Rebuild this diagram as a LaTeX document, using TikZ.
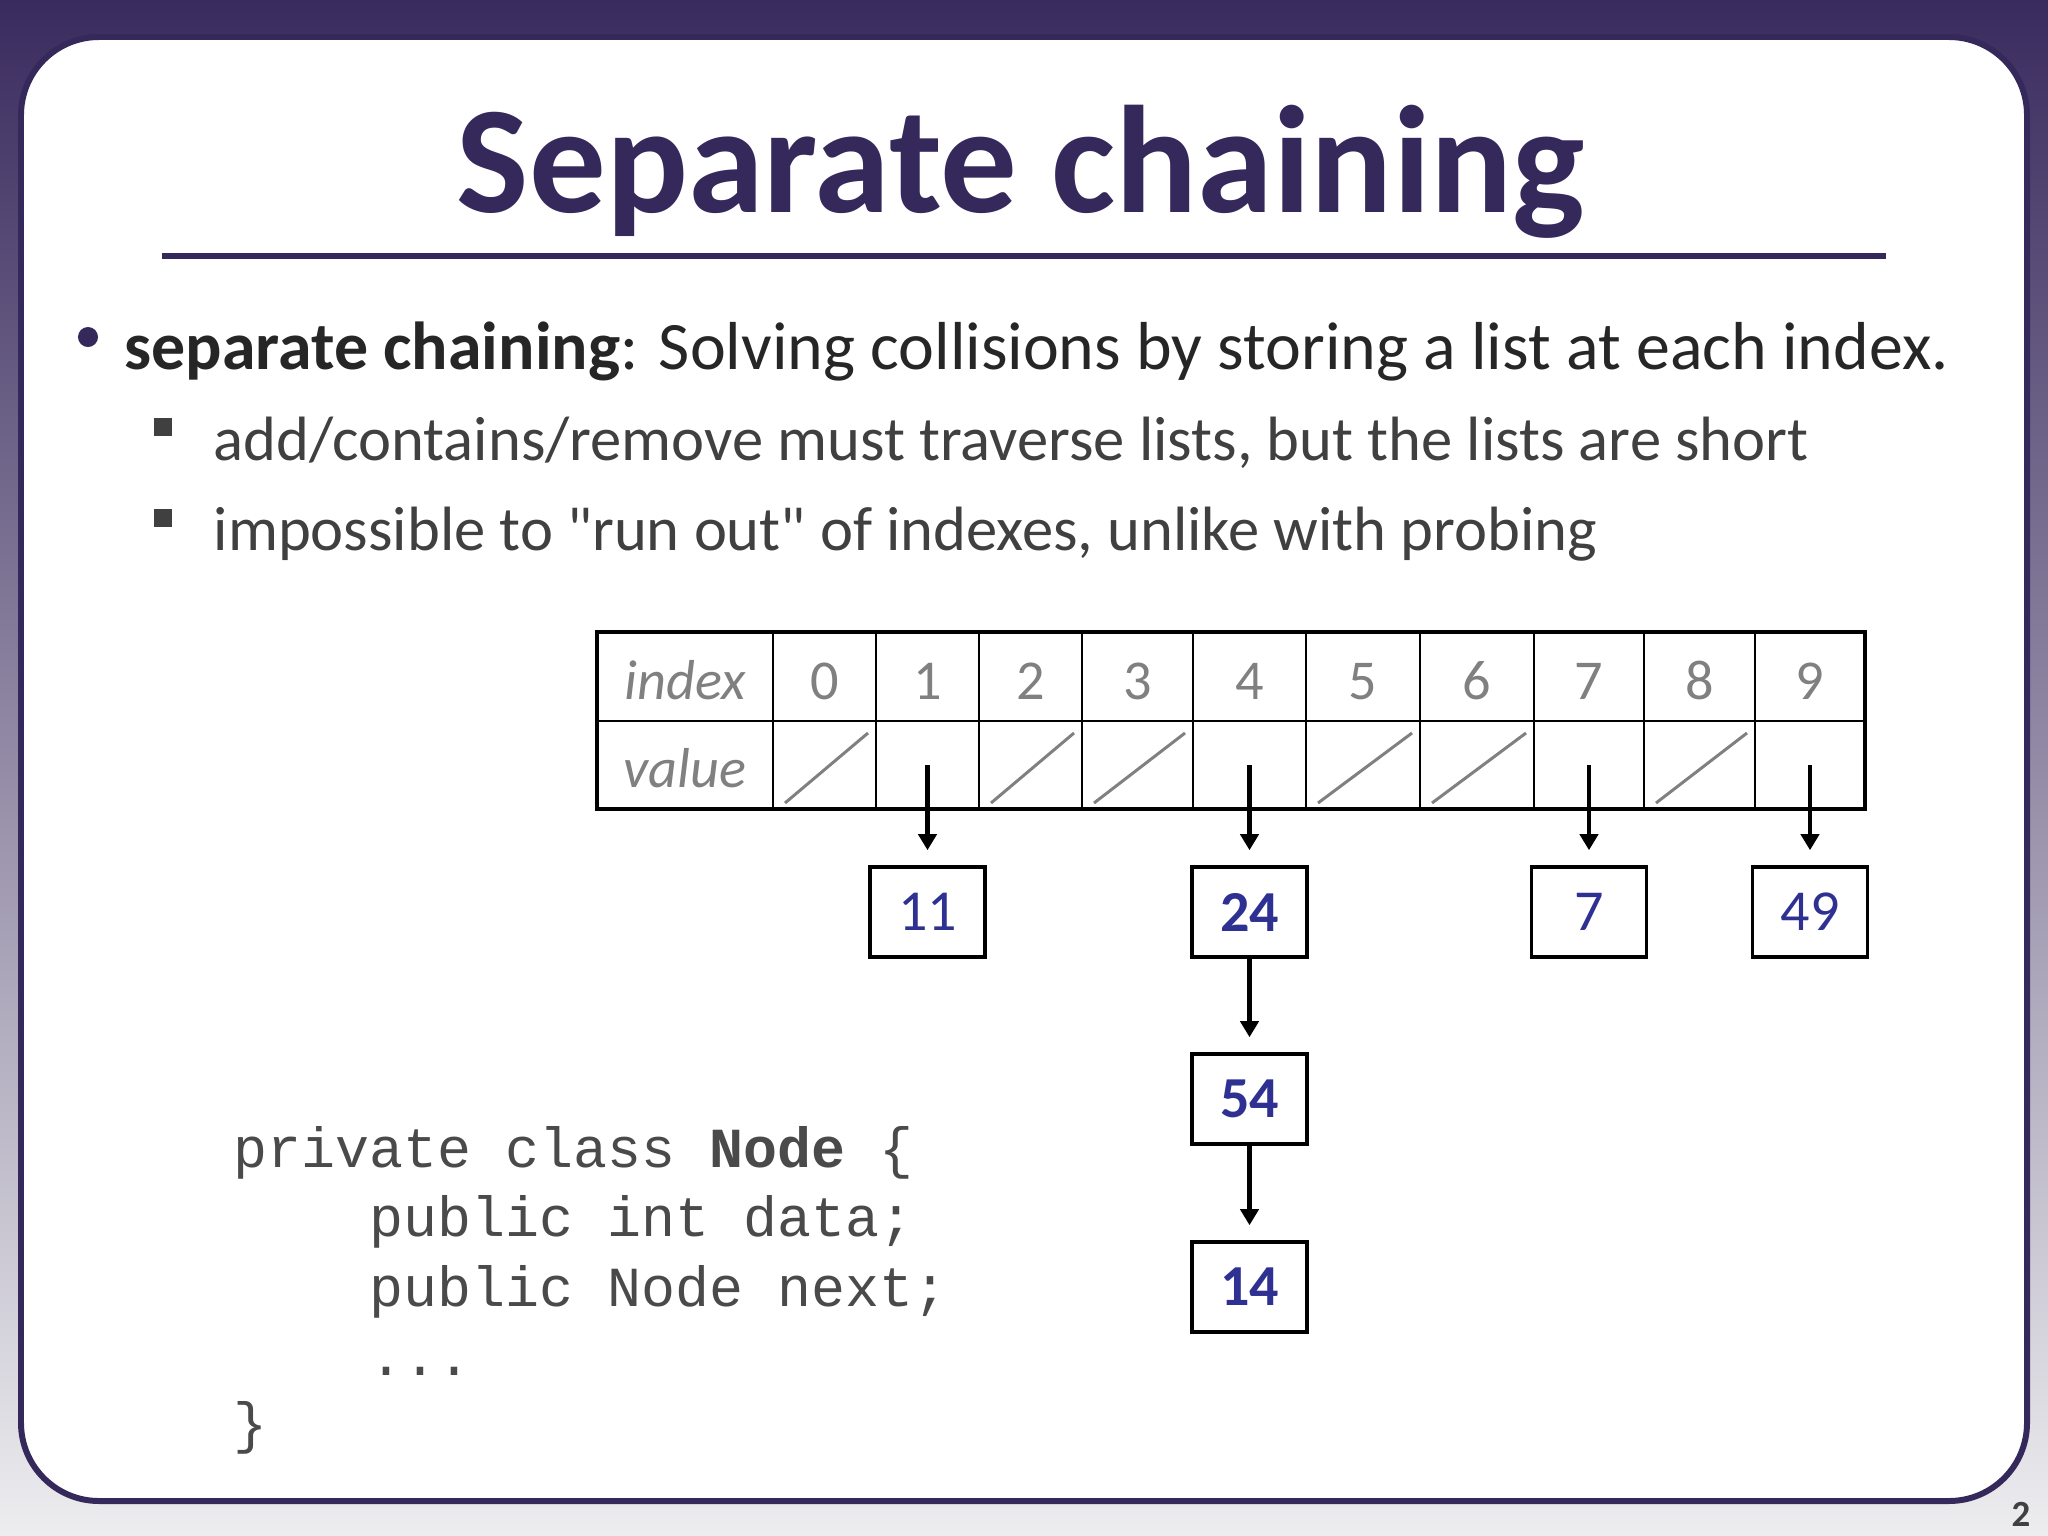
\documentclass[tikz,border=0pt]{standalone}
\usepackage{fontspec}
\setmainfont{Carlito}[Ligatures=TeXOff]
\setmonofont{Liberation Mono}
\usetikzlibrary{arrows.meta}

\definecolor{slidepurple}{HTML}{35295C}
\definecolor{bgtop}{HTML}{3A2B5E}
\definecolor{bgbottom}{HTML}{EDEDEF}
\definecolor{bodytext}{HTML}{262626}
\definecolor{subtext}{HTML}{404040}
\definecolor{codetext}{HTML}{4A4A4A}
\definecolor{cellgray}{HTML}{808080}
\definecolor{valueblue}{HTML}{2E3192}

\tikzset{
  listbox/.style={draw, line width=1pt, minimum width=1.15cm, minimum height=0.9cm,
    inner sep=0pt, text=valueblue, font=\fontsize{16.5}{19}\selectfont},
  listbox bold/.style={listbox, font=\bfseries\fontsize{16.5}{19}\selectfont},
  link/.style={-{Triangle[length=0.16cm,width=0.18cm]}, line width=1.3pt, shorten >=0.15cm},
  cell/.style={anchor=base, inner sep=0pt, text=cellgray, font=\fontsize{16}{19}\selectfont},
  codeline/.style={anchor=base west, inner sep=0pt, text=codetext,
    font=\ttfamily\fontsize{16.1}{20}\selectfont},
}

\begin{document}
\begin{tikzpicture}[x=0.01cm, y=-0.01cm]
    \useasboundingbox (0,0) rectangle (2048,1536);

    % Background and frame
    \shade[top color=bgtop, bottom color=bgbottom] (0,0) rectangle (2048,1536);
    \draw[slidepurple, line width=1.7pt, fill=white, rounded corners=0.78cm] (21,37) rectangle (2027,1501);

    % Title
    \node[anchor=base, inner sep=0pt, text=slidepurple, font=\bfseries\fontsize{43.5}{50}\selectfont] (title) at (1021,212) {Separate chaining};
    \draw[slidepurple, line width=1.7pt] (162,256) -- (1886,256);

    % Bullets
    \fill[slidepurple] (88,337) circle (0.1cm);
    \node[anchor=base west, inner sep=0pt, text=bodytext, font=\fontsize{19.3}{23}\selectfont] (point) at (124,369)
        {\textbf{separate chaining}: Solving collisions by storing a list at each index.};
    \fill[subtext] (154,418) rectangle (172,436);
    \fill[subtext] (154,509) rectangle (172,527);
    \node[anchor=base west, inner sep=0pt, text=subtext, font=\fontsize{17.8}{21}\selectfont] (subone) at (213,460)
        {add/contains/remove must traverse lists, but the lists are short};
    \node[anchor=base west, inner sep=0pt, text=subtext, font=\fontsize{17.8}{21}\selectfont] (subtwo) at (213,550)
        {impossible to "run out" of indexes, unlike with probing};

    % Table grid
    \draw[line width=0.6pt] (597,721) -- (1865,721);
    \foreach \x in {773,876,979,1082,1193,1306,1420,1534,1644,1755} {
        \draw[line width=0.6pt] (\x,632) -- (\x,809);
    }
    \draw[line width=1.15pt] (597,632) rectangle (1865,809);

    % Row labels
    \node[cell, font=\itshape\fontsize{16}{19}\selectfont] (idxlabel) at (685,699) {index};
    \node[cell, font=\itshape\fontsize{16}{19}\selectfont] (vallabel) at (685,787) {value};

    % Indexes and value slots
    \foreach \i/\l/\r in {0/773/876, 1/876/979, 2/979/1082, 3/1082/1193, 4/1193/1306,
                          5/1306/1420, 6/1420/1534, 7/1534/1644, 8/1644/1755, 9/1755/1865} {
        \node[cell] (idx\i) at ({(\l+\r)/2},699) {\i};
        \coordinate (slot\i) at ({(\l+\r)/2},765);
    }

    % Empty slots
    \foreach \l/\r in {773/876, 979/1082, 1082/1193, 1306/1420, 1420/1534, 1644/1755} {
        \draw[cellgray, line width=0.85pt] (\l+12,803) -- (\r-8,733);
    }

    % Chains
    \node[listbox] (n11) at (927.5,912) {11};
    \node[listbox bold] (n24) at (1249.5,912) {24};
    \node[listbox] (n7) at (1589,912) {7};
    \node[listbox] (n49) at (1810,912) {49};
    \node[listbox bold] (n54) at (1249.5,1099) {54};
    \node[listbox bold] (n14) at (1249.5,1287) {14};

    \draw[link] (slot1) -- (n11);
    \draw[link] (slot4) -- (n24);
    \draw[link] (slot7) -- (n7);
    \draw[link] (slot9) -- (n49);
    \draw[link] (n24) -- (n54);
    \draw[link] (n54) -- (n14);

    % Code
    \node[codeline] (codeone) at (233,1167) {private class \textbf{Node} \{};
    \node[codeline] (codetwo) at (369,1236) {public int data;};
    \node[codeline] (codethree) at (369,1306) {public Node next;};
    \node[codeline] (codefour) at (369,1375) {...};
    \node[codeline] (codefive) at (233,1442) {\}};

    % Slide number
    \node[anchor=base, inner sep=0pt, text=subtext, font=\bfseries\fontsize{10.5}{12}\selectfont] (pagenum) at (2021,1526) {2};
\end{tikzpicture}
\end{document}
